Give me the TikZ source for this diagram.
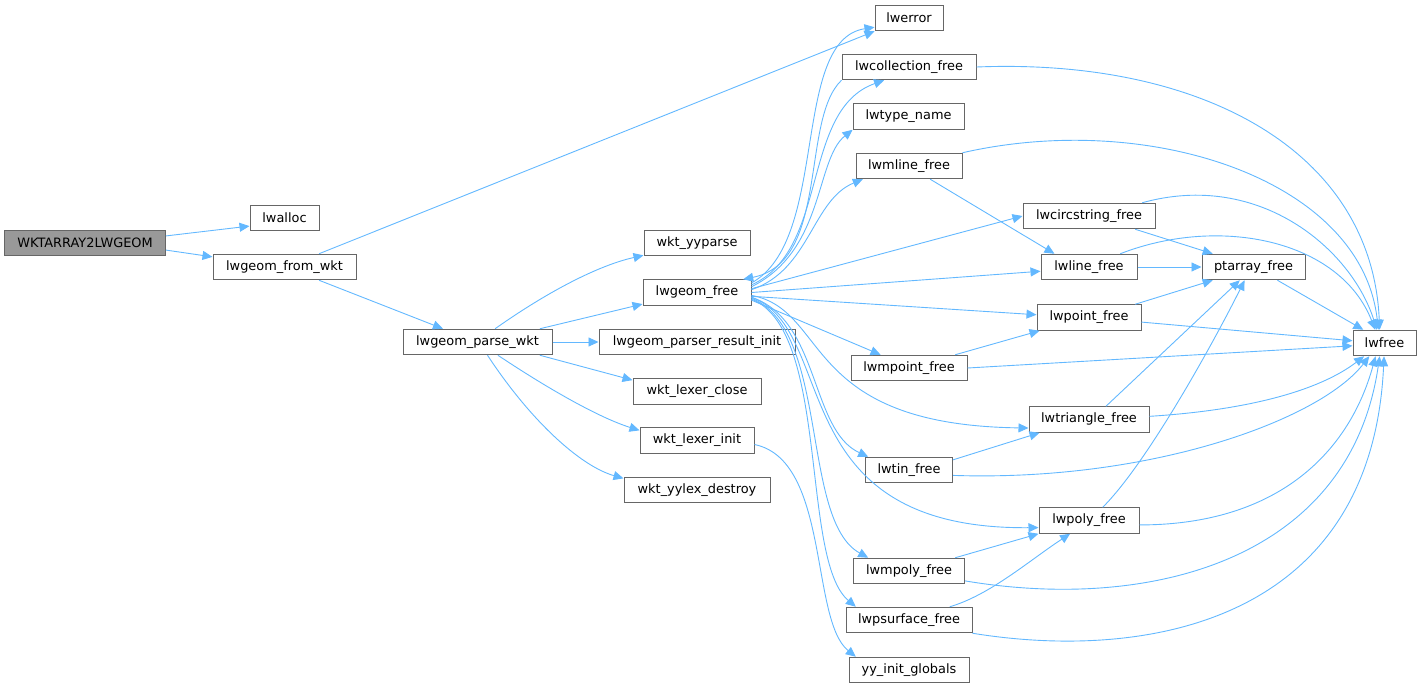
\documentclass[tikz,border=0pt]{standalone}
\usepackage{fontspec}
\setmainfont{DejaVu Sans}
\usepackage{xcolor}
\usepackage{tikz}
\usetikzlibrary{arrows.meta}

\definecolor{edgeblue}{HTML}{63B8FF}
\definecolor{boxline}{HTML}{666666}
\definecolor{rootgray}{HTML}{999999}

\begin{document}
\begin{tikzpicture}[x=1pt,y=-1pt,inner sep=0pt]
        \tikzset{func/.style={rectangle,draw=boxline,fill=white,line width=1pt,minimum height=25.5pt,font=\fontsize{12.9}{14}\selectfont}};
        \tikzset{root/.style={func,fill=rootgray}};
        \tikzset{call/.style={draw=edgeblue,line width=0.9pt,-{Triangle[length=10pt,width=9pt]}}};

        \useasboundingbox (0,0) rectangle (1421,688);

        \node [root,minimum width=161pt] (wkt) at (85,243) {WKTARRAY2LWGEOM};
        \node [func,minimum width=69pt] (lwalloc) at (284.5,218) {lwalloc};
        \node [func,minimum width=143pt] (fromwkt) at (284.5,267) {lwgeom\_from\_wkt};
        \node [func,minimum width=149pt] (parsewkt) at (477.5,342) {lwgeom\_parse\_wkt};

        \node [func,minimum width=106pt] (yyparse) at (697,243) {wkt\_yyparse};
        \node [func,minimum width=108pt] (geomfree) at (697,292.5) {lwgeom\_free};
        \node [func,minimum width=196pt] (resinit) at (697,342) {lwgeom\_parser\_result\_init};
        \node [func,minimum width=128pt] (lexclose) at (697,391.5) {wkt\_lexer\_close};
        \node [func,minimum width=114pt] (lexinit) at (697,440.5) {wkt\_lexer\_init};
        \node [func,minimum width=146pt] (yylexdestroy) at (697,490) {wkt\_yylex\_destroy};

        \node [func,minimum width=68pt] (lwerror) at (909,18) {lwerror};
        \node [func,minimum width=134pt] (collfree) at (909,67) {lwcollection\_free};
        \node [func,minimum width=111pt] (typename) at (908.5,116.5) {lwtype\_name};
        \node [func,minimum width=106pt] (mlinefree) at (909,166) {lwmline\_free};
        \node [func,minimum width=116pt] (mpointfree) at (909,368) {lwmpoint\_free};
        \node [func,minimum width=87pt] (tinfree) at (909,470) {lwtin\_free};
        \node [func,minimum width=111pt] (mpolyfree) at (909,571) {lwmpoly\_free};
        \node [func,minimum width=126pt] (psurffree) at (909,620) {lwpsurface\_free};
        \node [func,minimum width=120pt] (yyinit) at (909,670) {yy\_init\_globals};

        \node [func,minimum width=132pt] (circfree) at (1089,216) {lwcircstring\_free};
        \node [func,minimum width=96pt] (linefree) at (1089,267) {lwline\_free};
        \node [func,minimum width=104pt] (pointfree) at (1089,317.5) {lwpoint\_free};
        \node [func,minimum width=120pt] (trifree) at (1089,419.5) {lwtriangle\_free};
        \node [func,minimum width=100pt] (polyfree) at (1089,520.5) {lwpoly\_free};
        \node [func,minimum width=103pt] (ptarray) at (1253.5,267) {ptarray\_free};
        \node [func,minimum width=63pt] (lwfree) at (1384.5,343) {lwfree};

        % entry
        \draw [call] (wkt.5) -- (lwalloc.193);
        \draw [call] (wkt.-5) -- (fromwkt.172);
        \draw [call] (fromwkt.21) -- (lwerror.south west);
        \draw [call] (fromwkt.-21) -- (parsewkt.159);

        % parser
        \draw [call] (parsewkt.37) .. controls (550,290) and (600,265) .. (yyparse.193);
        \draw [call] (parsewkt.12.5) -- (geomfree.192);
        \draw [call] (parsewkt.east) -- (resinit.west);
        \draw [call] (parsewkt.-12.5) -- (lexclose.170);
        \draw [call] (parsewkt.-33) .. controls (550,390) and (600,418) .. (lexinit.170);
        \draw [call] (parsewkt.-53) .. controls (530,420) and (580,466) .. (yylexdestroy.171);
        \draw [call] (lexinit.-4) .. controls (830,460) and (810,620) .. (yyinit.166);

        % lwgeom_free
        \draw [call] (geomfree.10) .. controls (830,240) and (790,40) .. (lwerror.195);
        \draw [call] (geomfree.8) .. controls (830,250) and (800,110) .. (collfree.208);
        \draw [call] (collfree.south west) .. controls (800,120) and (830,262) .. (geomfree.16);
        \draw [call] (geomfree.6) .. controls (825,250) and (815,160) .. (typename.south west);
        \draw [call] (geomfree.3) .. controls (810,270) and (812,200) .. (mlinefree.196);
        \draw [call] (geomfree.4) -- (circfree.west);
        \draw [call] (geomfree.east) -- (linefree.185);
        \draw [call] (geomfree.-4) -- (pointfree.177);
        \draw [call] (geomfree.-8) -- (mpointfree.155);
        \draw [call] (geomfree.-3) .. controls (830,310) and (800,425) .. (trifree.188);
        \draw [call] (geomfree.-5) .. controls (820,320) and (810,430) .. (tinfree.162);
        \draw [call] (geomfree.-5) .. controls (840,330) and (780,530) .. (polyfree.188);
        \draw [call] (geomfree.-6) .. controls (830,330) and (800,520) .. (mpolyfree.162);
        \draw [call] (geomfree.-7) .. controls (830,330) and (800,560) .. (psurffree.166);

        % collections
        \draw [call] (collfree.east) .. controls (1200,58) and (1372,150) .. (lwfree.110);
        \draw [call] (mlinefree.north east) .. controls (1150,110) and (1362,180) .. (lwfree.115);
        \draw [call] (mlinefree.-32) -- (linefree.159);
        \draw [call] (mpointfree.16) -- (pointfree.195);
        \draw [call] (mpointfree.east) -- (lwfree.185);
        \draw [call] (tinfree.13) -- (trifree.195);
        \draw [call] (tinfree.-7) .. controls (1150,482) and (1320,420) .. (lwfree.221);
        \draw [call] (mpolyfree.16) -- (polyfree.south west);
        \draw [call] (mpolyfree.-10) .. controls (1150,612) and (1350,560) .. (lwfree.250);
        \draw [call] (psurffree.18) .. controls (990,595) and (1030,560) .. (polyfree.215);
        \draw [call] (psurffree.south east) .. controls (1150,662) and (1372,620) .. (lwfree.268);

        % simple types
        \draw [call] (circfree.-16) -- (ptarray.162);
        \draw [call] (circfree.14) .. controls (1260,170) and (1352,250) .. (lwfree.120);
        \draw [call] (linefree.east) -- (ptarray.west);
        \draw [call] (linefree.23) .. controls (1220,215) and (1340,240) .. (lwfree.125);
        \draw [call] (pointfree.16) -- (ptarray.198);
        \draw [call] (pointfree.-5) -- (lwfree.176);
        \draw [call] (trifree.38) -- (ptarray.224);
        \draw [call] (trifree.3) .. controls (1250,410) and (1320,390) .. (lwfree.213);
        \draw [call] (polyfree.44) .. controls (1150,460) and (1220,330) .. (ptarray.236);
        \draw [call] (polyfree.-5) .. controls (1280,525) and (1350,450) .. (lwfree.236);
        \draw [call] (ptarray.-29) -- (lwfree.148);
    \end{tikzpicture}
\end{document}
